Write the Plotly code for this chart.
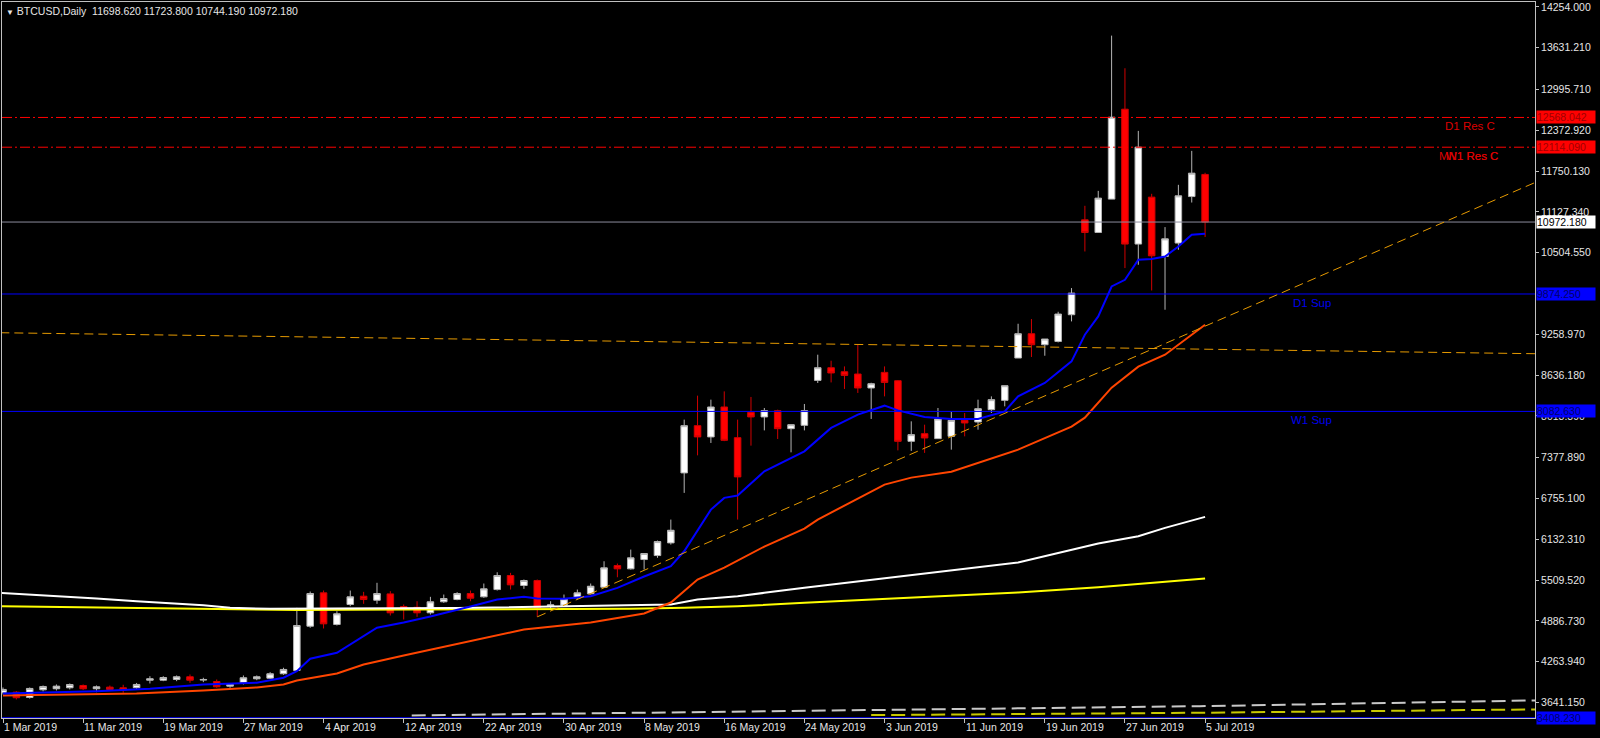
import plotly.graph_objects as go

# ---------------- data ----------------
bar_index = list(range(91))  # weekday bars 1 Mar 2019 .. 5 Jul 2019

opens = [3794, 3798, 3717, 3834, 3850, 3865, 3900, 3850, 3875, 3865,
         3865, 3981, 3981, 3992, 4033, 3982, 3961, 3890, 3941, 4002,
         4012, 4079, 4129, 4805, 5314, 4831, 5136, 5263, 5201, 5298,
         5105, 5094, 5009, 5177, 5212, 5303, 5253, 5364, 5578, 5426,
         5502, 5110, 5126, 5238, 5299, 5400, 5730, 5680, 5822, 5883,
         6076, 7144, 7865, 7693, 8150, 7682, 8068, 7998, 8094, 7819,
         7870, 8556, 8749, 8688, 8653, 8440, 8678, 8551, 7626, 7743,
         7667, 7702, 7946, 7921, 8109, 8251, 8897, 9268, 9100, 9150,
         9558, 11006, 10813, 11322, 12694, 10636, 11352, 10447, 10651, 11361,
         11698.62]
highs = [3870, 3813, 3870, 3900, 3916, 3931, 3916, 3900, 3900, 3911,
         3939, 4042, 4042, 4053, 4068, 4018, 3992, 3931, 4053, 4053,
         4104, 4171, 5085, 5334, 5349, 5034, 5349, 5329, 5467, 5339,
         5136, 5186, 5253, 5288, 5324, 5349, 5456, 5628, 5619, 5517,
         5517, 5186, 5288, 5364, 5456, 5796, 5761, 5974, 5914, 6112,
         6432, 7957, 8323, 8262, 8388, 7957, 8303, 8135, 8109, 7880,
         8196, 8948, 8856, 8769, 9100, 8520, 8769, 8560, 7931, 7880,
         8135, 8074, 8058, 8262, 8312, 8475, 9420, 9492, 9187, 9603,
         9965, 11220, 11448, 13817, 13319, 12363, 11403, 10895, 11540, 12058,
         11723.80]
lows = [3763, 3687, 3700, 3809, 3824, 3840, 3832, 3798, 3820, 3789,
        3847, 3931, 3966, 3966, 3941, 3951, 3865, 3865, 3916, 3981,
        4002, 4063, 4118, 4780, 4770, 4815, 5110, 5146, 5146, 4968,
        4907, 4948, 4983, 5161, 5201, 5186, 5238, 5349, 5364, 5375,
        4948, 5059, 5100, 5212, 5288, 5390, 5552, 5669, 5669, 5848,
        6050, 6839, 7412, 7601, 7629, 6432, 7560, 7793, 7662, 7458,
        7793, 8516, 8525, 8425, 8364, 7967, 8312, 7488, 7480, 7449,
        7667, 7499, 7702, 7804, 8058, 8160, 8897, 8913, 8932, 9135,
        9456, 10523, 10813, 11322, 10270, 10320, 9928, 9634, 10549, 11270,
        10744.19]
closes = [3840, 3713, 3855, 3885, 3890, 3915, 3850, 3880, 3840, 3830,
          3916, 4002, 4022, 4033, 3981, 3992, 3880, 3916, 4018, 4033,
          4079, 4145, 4815, 5303, 4841, 4994, 5253, 5212, 5303, 5009,
          5059, 5009, 5177, 5227, 5303, 5232, 5375, 5578, 5436, 5502,
          5085, 5131, 5222, 5314, 5415, 5695, 5680, 5848, 5914, 6096,
          6269, 7865, 7693, 8150, 7641, 7083, 7998, 8094, 7819, 7880,
          8094, 8749, 8669, 8632, 8440, 8505, 8525, 7626, 7728, 7677,
          7967, 7946, 7906, 8124, 8262, 8475, 9268, 9100, 9187, 9568,
          9888, 10813, 11337, 12572, 10636, 12115, 10457, 10716, 11372, 11718,
          10972.18]

ma_fast_x = [0, 7, 11, 15, 19, 21, 22, 23, 25, 26, 28, 30, 32, 35, 36, 37, 39, 40, 42, 44,
             46, 48, 50, 51, 53, 54, 55, 57, 60, 62, 64, 66, 67, 69, 71, 73, 75, 76, 78, 80,
             81, 82, 83, 84, 85, 86, 87, 88, 89, 90]
ma_fast_y = [3779, 3814, 3850, 3916, 3942, 4018, 4119, 4308, 4399, 4526, 4781, 4861, 4953, 5105,
             5161, 5212, 5253, 5227, 5222, 5262, 5390, 5563, 5720, 5948, 6584, 6763, 6798, 7168,
             7473, 7830, 8033, 8170, 8098, 7998, 7967, 7967, 8083, 8312, 8516, 8846, 9253, 9532,
             9989, 10091, 10396, 10407, 10447, 10599, 10777, 10793]

ma_mid_x = [0, 10, 15, 19, 21, 22, 25, 27, 30, 36, 39, 44, 48, 50, 52, 54, 57, 60, 61, 66,
            68, 71, 75, 76, 80, 81, 83, 85, 87, 90]
ma_mid_y = [3748, 3779, 3824, 3870, 3916, 3977, 4084, 4221, 4358, 4617, 4754, 4861, 4998, 5166,
            5517, 5700, 6020, 6294, 6432, 6965, 7072, 7163, 7423, 7499, 7850, 7987, 8445, 8765,
            8948, 9405]

ma_slow_x = [-0.2, 2, 5, 7, 10, 12, 15, 17, 20, 34, 47, 50, 52, 55, 57, 60, 76, 82, 85, 87, 90]
ma_slow_y = [5314, 5288, 5262, 5227, 5186, 5161, 5125, 5085, 5070, 5082, 5120, 5136, 5212, 5262,
             5314, 5390, 5776, 6066, 6177, 6305, 6473]

ma_long_x = [-0.2, 7, 15, 22, 30, 37, 47, 51, 55, 60, 76, 82, 85, 87, 90]
ma_long_y = [5110, 5090, 5067, 5052, 5059, 5059, 5070, 5085, 5110, 5161, 5319, 5399, 5451, 5491, 5532]

# dashed lines near the bottom
dash_gray_x = [30.6, 59.7, 89.6, 114.7]
dash_gray_y = [3443, 3508, 3584, 3672]
dash_yellow_x = [65, 89.6, 114.7]
dash_yellow_y = [3448, 3484, 3535]

# trend lines (start/end points)
trend_up = [(40, 4948), (114.7, 11575)]
trend_flat = [(-0.2, 9283), (114.7, 8963)]

# horizontal levels
res_levels = [12568.042, 12114.090]
sup_levels = [9874.250, 8082.630, 3408.230]
last_price = 10972.180

# axis labels
x_label_pos = [0, 6, 12, 18, 24, 30, 36, 42, 48, 54, 60, 66, 72, 78, 84, 90]
x_label_txt = ["1 Mar 2019", "11 Mar 2019", "19 Mar 2019", "27 Mar 2019", "4 Apr 2019",
               "12 Apr 2019", "22 Apr 2019", "30 Apr 2019", "8 May 2019", "16 May 2019",
               "24 May 2019", "3 Jun 2019", "11 Jun 2019", "19 Jun 2019", "27 Jun 2019",
               "5 Jul 2019"]
y_tick_vals = [14254.000, 13631.210, 12995.710, 12372.920, 11750.130, 11127.340, 10504.550,
               9258.970, 8636.180, 8013.390, 7377.890, 6755.100, 6132.310,
               5509.520, 4886.730, 4263.940, 3641.150]

FONT = "Liberation Sans"
TXT = "#e6e6e6"

fig = go.Figure()

# MAs under candles
fig.add_trace(go.Scatter(x=ma_long_x, y=ma_long_y, mode="lines",
                         line=dict(color="#ffff00", width=2), hoverinfo="skip"))
fig.add_trace(go.Scatter(x=ma_slow_x, y=ma_slow_y, mode="lines",
                         line=dict(color="#ffffff", width=2), hoverinfo="skip"))
fig.add_trace(go.Scatter(x=dash_gray_x, y=dash_gray_y, mode="lines",
                         line=dict(color="#c8c8c8", width=2, dash="14px,6px"), hoverinfo="skip"))
fig.add_trace(go.Scatter(x=dash_yellow_x, y=dash_yellow_y, mode="lines",
                         line=dict(color="#c8c800", width=2, dash="14px,6px"), hoverinfo="skip"))

fig.add_trace(go.Candlestick(
    x=bar_index, open=opens, high=highs, low=lows, close=closes,
    increasing=dict(line=dict(color="#b4b4b4", width=1), fillcolor="#ffffff"),
    decreasing=dict(line=dict(color="#d00000", width=1), fillcolor="#ff0000"),
    whiskerwidth=0, hoverinfo="skip"))

fig.add_trace(go.Scatter(x=ma_mid_x, y=ma_mid_y, mode="lines",
                         line=dict(color="#ff4500", width=2), hoverinfo="skip"))
fig.add_trace(go.Scatter(x=ma_fast_x, y=ma_fast_y, mode="lines",
                         line=dict(color="#0000ff", width=2), hoverinfo="skip"))

shapes = []
for lv in res_levels:
    shapes.append(dict(type="line", xref="paper", x0=0, x1=1, yref="y", y0=lv, y1=lv,
                       line=dict(color="#ff0000", width=1, dash="10px,3px,2px,3px")))
for lv in sup_levels:
    shapes.append(dict(type="line", xref="paper", x0=0, x1=1, yref="y", y0=lv, y1=lv,
                       line=dict(color="#0000ff", width=1)))
shapes.append(dict(type="line", xref="paper", x0=0, x1=1, yref="y", y0=last_price, y1=last_price,
                   line=dict(color="#8c8c9c", width=1)))
for (p0, p1) in [trend_up, trend_flat]:
    shapes.append(dict(type="line", xref="x", yref="y", x0=p0[0], y0=p0[1], x1=p1[0], y1=p1[1],
                       line=dict(color="#e69a00", width=1, dash="9px,5px")))

ann = []
ann.append(dict(xref="paper", yref="paper", x=0, y=1, xanchor="left", yanchor="top",
                xshift=2, yshift=-1, showarrow=False,
                text="<span style='font-size:8px'>▼</span> BTCUSD,Daily\u00a0\u00a011698.620 11723.800 10744.190 10972.180",
                font=dict(family=FONT, size=10.5, color=TXT)))
for k, t in zip(x_label_pos, x_label_txt):
    ann.append(dict(xref="x", yref="paper", x=k, y=0, xanchor="left", yanchor="top",
                    xshift=-1, yshift=-1, showarrow=False, text=t,
                    font=dict(family=FONT, size=10.5, color=TXT)))

def price_box(v, bg, fg):
    return dict(xref="paper", yref="y", x=1, y=v, xanchor="left", yanchor="middle",
                xshift=1, showarrow=False, text=f"{v:.3f}", bgcolor=bg, width=58, height=12,
                align="left", borderpad=0, font=dict(family=FONT, size=10.5, color=fg))

ann.append(price_box(res_levels[0], "#ff0000", "#a00000"))
ann.append(price_box(res_levels[1], "#ff0000", "#a00000"))
ann.append(price_box(last_price, "#ffffff", "#000000"))
for lv in sup_levels:
    ann.append(price_box(lv, "#0000ff", "#00006a"))

def lvl_text(txt, v, xp, anchor, color):
    return dict(xref="paper", yref="y", x=xp, y=v, xanchor=anchor, yanchor="top", yshift=-1,
                showarrow=False, text=txt, font=dict(family=FONT, size=11.5, color=color))

ann.append(lvl_text("D1 Res C", res_levels[0], 0.9752, "right", "#dd0000"))
ann.append(lvl_text("MN1 Res C", res_levels[1], 0.9772, "right", "#dd0000"))
ann.append(lvl_text("W1 Res C", res_levels[1], 0.9772, "right", "#dd0000"))
ann.append(lvl_text("D1 Sup", sup_levels[0], 0.8545, "center", "#0000ee"))
ann.append(lvl_text("W1 Sup", sup_levels[1], 0.8545, "center", "#0000ee"))

fig.update_layout(
    width=1600, height=738,
    margin=dict(l=2, r=65, t=2, b=20),
    paper_bgcolor="#000000", plot_bgcolor="#000000",
    showlegend=False, shapes=shapes, annotations=ann,
    font=dict(family=FONT, size=10.5, color=TXT),
    xaxis=dict(range=[-0.075, 114.7], showgrid=False, zeroline=False,
               showline=True, linecolor="#c0c0c0", linewidth=1, mirror=True,
               ticks="outside", ticklen=4, tickcolor="#c0c0c0",
               tickvals=x_label_pos, showticklabels=False,
               rangeslider=dict(visible=False), fixedrange=True),
    yaxis=dict(range=[3404, 14330], side="right", showgrid=False, zeroline=False,
               showline=True, linecolor="#c0c0c0", linewidth=1, mirror=True,
               ticks="outside", ticklen=3, tickcolor="#c0c0c0",
               tickvals=y_tick_vals, ticktext=[f"{v:.3f}" for v in y_tick_vals],
               tickfont=dict(family=FONT, size=10.5, color=TXT), fixedrange=True,
               automargin=False),
)

fig.write_html("out.html", config={"displayModeBar": False},
               post_script="document.body.style.margin='0px';document.body.style.overflow='hidden';")
